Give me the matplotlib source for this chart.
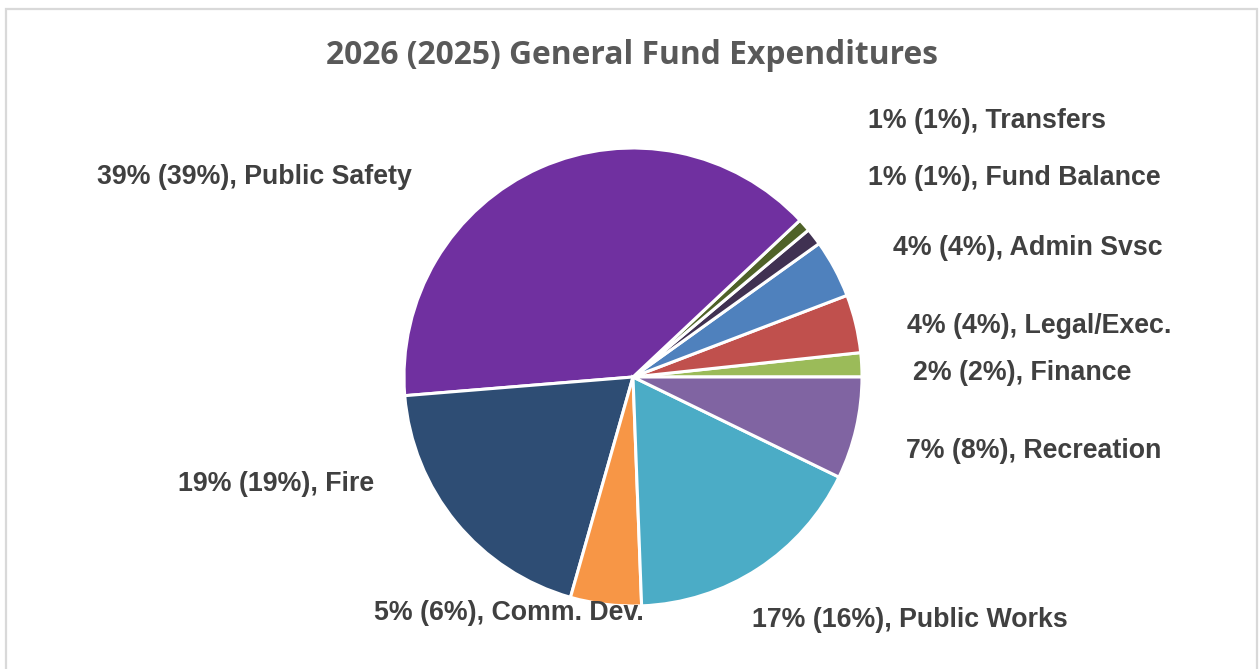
import matplotlib.pyplot as plt
from matplotlib.patches import Rectangle

# General fund expenditure shares (%), current year, and prior-year labels
categories = ["Finance", "Legal/Exec.", "Admin Svsc", "Fund Balance", "Transfers",
              "Public Safety", "Fire", "Comm. Dev.", "Public Works", "Recreation"]
share_2026 = [1.7, 4.1, 4.1, 1.2, 0.9, 39.3, 19.3, 5.0, 17.2, 7.2]
share_2025 = [2, 4, 4, 1, 1, 39, 19, 6, 16, 8]
colors = ["#9BBB59", "#C0504D", "#4F81BD", "#403152", "#4F6228",
          "#7030A0", "#2E4D74", "#F79646", "#4BACC6", "#8064A2"]

W, H = 1259, 669
fig = plt.figure(figsize=(W / 100, H / 100), dpi=100)
ax = fig.add_axes([0, 0, 1, 1])

ax.pie(share_2026, colors=colors, startangle=0, counterclock=True,
       center=(633, H - 377), radius=229, frame=True,
       wedgeprops=dict(edgecolor="white", linewidth=2.2))
ax.set_xlim(0, W)
ax.set_ylim(0, H)
ax.set_aspect("equal")
ax.axis("off")

# chart frame
ax.add_patch(Rectangle((6, -5), W - 8, H - 4, fill=False,
                       edgecolor="#d9d9d9", linewidth=1.6))

# label anchors (left edge x, centre y from top)
label_pos = [(913, 373), (907, 326), (893, 248), (868, 178), (868, 121),
             (97, 177), (178, 484), (374, 613), (752, 620), (906, 451)]

for name, cur, prev, (x, y) in zip(categories, share_2026, share_2025, label_pos):
    ax.text(x, H - y, f"{round(cur)}% ({prev}%), {name}",
            family="Liberation Sans", weight="bold", fontsize=19.3,
            color="#404040", ha="left", va="center")

ax.text(632, H - 55, "2026 (2025) General Fund Expenditures",
        family="Open Sans", weight="bold", fontsize=22.9,
        color="#595959", ha="center", va="center")

fig.savefig("out.png", dpi=100, facecolor="white")
